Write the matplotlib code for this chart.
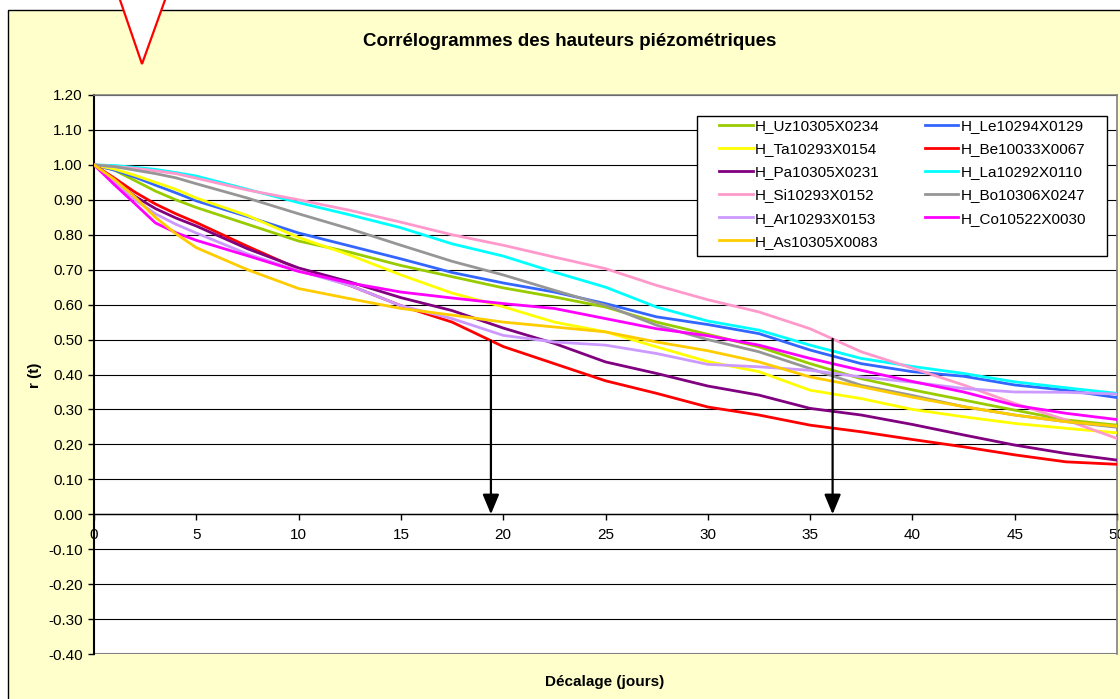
import numpy as np
import matplotlib
matplotlib.use("Agg")
import matplotlib.pyplot as plt
import matplotlib.patches as patches
from matplotlib.ticker import FuncFormatter

plt.rcParams["font.family"] = ["Liberation Sans", "DejaVu Sans"]
plt.rcParams["axes.unicode_minus"] = False


# -----------------------------
# DATA : autocorrelation r(t) per piezometer
# -----------------------------
LAGS = [0, 1, 2, 3, 4, 5, 7.5, 10, 12.5, 15, 17.5, 20, 22.5, 25,
        27.5, 30, 32.5, 35, 37.5, 40, 42.5, 45, 47.5, 50]

H_UZ = [1.00, 0.985, 0.955, 0.925, 0.900, 0.878, 0.830, 0.782, 0.750, 0.712, 0.680, 0.648,
        0.622, 0.593, 0.550, 0.515, 0.479, 0.431, 0.388, 0.356, 0.327, 0.298, 0.270, 0.255]
H_LE = [1.00, 0.985, 0.965, 0.942, 0.920, 0.897, 0.852, 0.805, 0.768, 0.731, 0.692, 0.662,
        0.636, 0.603, 0.565, 0.543, 0.517, 0.470, 0.431, 0.408, 0.395, 0.370, 0.355, 0.334]
H_TA = [1.00, 0.988, 0.970, 0.950, 0.930, 0.905, 0.855, 0.792, 0.742, 0.685, 0.633, 0.594,
        0.550, 0.522, 0.479, 0.437, 0.408, 0.355, 0.331, 0.300, 0.279, 0.260, 0.246, 0.233]
H_BE = [1.00, 0.962, 0.922, 0.888, 0.860, 0.835, 0.767, 0.702, 0.655, 0.597, 0.550, 0.480,
        0.431, 0.382, 0.346, 0.307, 0.284, 0.255, 0.236, 0.214, 0.193, 0.170, 0.150, 0.143]
H_PA = [1.00, 0.955, 0.910, 0.875, 0.848, 0.825, 0.760, 0.705, 0.665, 0.620, 0.583, 0.533,
        0.489, 0.436, 0.403, 0.367, 0.341, 0.303, 0.284, 0.257, 0.227, 0.198, 0.174, 0.155]
H_LA = [1.00, 0.998, 0.993, 0.987, 0.978, 0.968, 0.930, 0.892, 0.857, 0.820, 0.774, 0.739,
        0.693, 0.650, 0.593, 0.553, 0.527, 0.484, 0.446, 0.423, 0.403, 0.379, 0.362, 0.346]
H_SI = [1.00, 0.995, 0.990, 0.983, 0.975, 0.962, 0.928, 0.900, 0.870, 0.836, 0.800, 0.770,
        0.736, 0.703, 0.655, 0.614, 0.579, 0.531, 0.465, 0.418, 0.370, 0.317, 0.270, 0.217]
H_BO = [1.00, 0.995, 0.985, 0.975, 0.963, 0.946, 0.905, 0.860, 0.817, 0.770, 0.724, 0.685,
        0.641, 0.598, 0.541, 0.500, 0.465, 0.417, 0.369, 0.340, 0.308, 0.284, 0.265, 0.249]
H_AR = [1.00, 0.950, 0.900, 0.860, 0.830, 0.805, 0.745, 0.697, 0.655, 0.597, 0.560, 0.512,
        0.493, 0.484, 0.460, 0.429, 0.422, 0.412, 0.393, 0.378, 0.360, 0.350, 0.349, 0.344]
H_CO = [1.00, 0.943, 0.889, 0.834, 0.806, 0.784, 0.740, 0.695, 0.662, 0.636, 0.619, 0.603,
        0.589, 0.560, 0.531, 0.511, 0.484, 0.446, 0.412, 0.380, 0.350, 0.312, 0.289, 0.271]
H_AS = [1.00, 0.958, 0.908, 0.850, 0.803, 0.763, 0.700, 0.646, 0.617, 0.589, 0.570, 0.550,
        0.536, 0.522, 0.493, 0.468, 0.436, 0.393, 0.365, 0.335, 0.308, 0.284, 0.265, 0.252]

NAMES = ["H_Uz10305X0234", "H_Le10294X0129", "H_Ta10293X0154", "H_Be10033X0067",
         "H_Pa10305X0231", "H_La10292X0110", "H_Si10293X0152", "H_Bo10306X0247",
         "H_Ar10293X0153", "H_Co10522X0030", "H_As10305X0083"]
SERIES = [H_UZ, H_LE, H_TA, H_BE, H_PA, H_LA, H_SI, H_BO, H_AR, H_CO, H_AS]
COLORS = ["#99CC00", "#3366FF", "#FFFF00", "#FF0000", "#800080", "#00FFFF",
          "#FF99CC", "#969696", "#CC99FF", "#FF00FF", "#FFCC00"]

# legend is filled column by column
LEGEND_ORDER = [0, 2, 4, 6, 8, 10, 1, 3, 5, 7, 9]

# decorrelation lags pointed by arrows
ARROW_LAGS = [19.4, 36.1]
ARROW_SERIES = ["H_Be10033X0067", "H_Si10293X0152"]

Y_TICKS = np.round(np.arange(-0.4, 1.21, 0.1), 2)
X_TICKS = np.arange(0, 51, 5)

W, H = 1120, 699


def fx(x):
    return x / W


def fy(y):
    return 1 - y / H


def fmt_r(v, pos):
    v = round(v, 2) + 0.0
    return f"{v:.2f}"


# -----------------------------
# FIGURE
# -----------------------------
fig = plt.figure(figsize=(W / 100, H / 100), dpi=100)
fig.patch.set_facecolor("white")

# chart area background
area = patches.Rectangle((fx(8), -0.05), 1.1, fy(10) + 0.05,
                         transform=fig.transFigure, facecolor="#FFFFCC",
                         edgecolor="black", lw=1.0, zorder=-1)
fig.add_artist(area)

ax = fig.add_axes([fx(94), fy(654), (1117 - 94) / W, (654 - 95) / H])
ax.set_facecolor("white")

lines = []
for name, values, color in zip(NAMES, SERIES, COLORS):
    ln, = ax.plot(LAGS, values, color=color, lw=2.0, label=name, zorder=3,
                  solid_joinstyle="round")
    lines.append(ln)

ax.set_xlim(0, 50)
ax.set_ylim(-0.4, 1.2)
ax.set_xticks(X_TICKS)
ax.set_yticks(Y_TICKS)
ax.yaxis.set_major_formatter(FuncFormatter(fmt_r))

ax.grid(axis="y", color="black", lw=0.8)
ax.set_axisbelow(True)

ax.spines["bottom"].set_position(("data", 0))
ax.spines["bottom"].set_color("black")
ax.spines["bottom"].set_linewidth(1.0)
ax.spines["left"].set_color("black")
ax.spines["left"].set_linewidth(1.5)
for side in ["top", "right"]:
    ax.spines[side].set_color("#808080")
    ax.spines[side].set_linewidth(1.2)
ax.axhline(-0.4, color="#808080", lw=1.5, zorder=2)

ax.tick_params(axis="x", direction="out", length=4, width=1, labelsize=11, pad=6)
ax.tick_params(axis="y", direction="out", length=4, width=1, labelsize=11, pad=4)

# -----------------------------
# ARROWS
# -----------------------------
for lag, name in zip(ARROW_LAGS, ARROW_SERIES):
    top = np.interp(lag, LAGS, SERIES[NAMES.index(name)])
    ax.annotate("", xy=(lag, 0.0), xytext=(lag, top),
                arrowprops=dict(arrowstyle="-|>,head_length=0.6,head_width=0.25",
                                color="black", lw=1.6, shrinkA=0, shrinkB=0,
                                mutation_scale=20),
                zorder=6)

# -----------------------------
# LEGEND
# -----------------------------
box = patches.Rectangle((fx(697), fy(256)), (1107 - 697) / W, (256 - 116) / H,
                        transform=fig.transFigure, facecolor="white",
                        edgecolor="black", lw=1.0, zorder=4)
ax.add_patch(box)

ax.legend([lines[i] for i in LEGEND_ORDER], [NAMES[i] for i in LEGEND_ORDER],
          ncol=2, loc="upper left", bbox_to_anchor=(fx(719), fy(119)),
          bbox_transform=fig.transFigure, frameon=False, fontsize=11,
          handlelength=2.2, handletextpad=0.15, columnspacing=2.95,
          labelspacing=0.6, borderpad=0, borderaxespad=0)

# -----------------------------
# TEXTS
# -----------------------------
fig.text(fx(570), fy(41), "Corrélogrammes des hauteurs piézométriques",
         ha="center", va="center", fontsize=13.5, fontweight="bold")
fig.text(fx(605), fy(682), "Décalage (jours)",
         ha="center", va="center", fontsize=11, fontweight="bold")
fig.text(fx(35), fy(375), "r (t)", rotation=90,
         ha="center", va="center", fontsize=11, fontweight="bold")

# marker at the top of the sheet
tri = patches.Polygon([(fx(116.6), fy(-10)), (fx(142), fy(64)), (fx(168.6), fy(-10))],
                      closed=True, transform=fig.transFigure, facecolor="white",
                      edgecolor="#FF0000", lw=1.6, zorder=10, clip_on=False)
fig.add_artist(tri)

fig.savefig("out.png", dpi=100)
plt.close(fig)
